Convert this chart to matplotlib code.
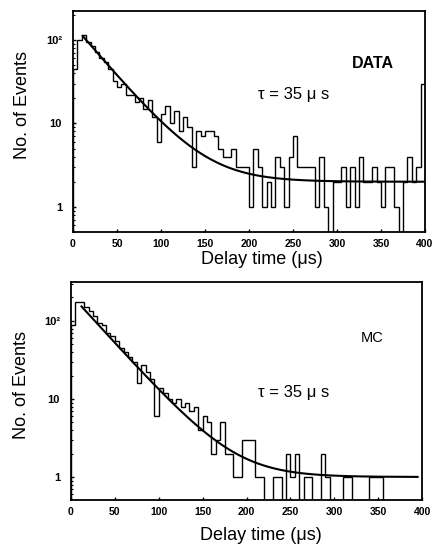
import numpy as np
import matplotlib
matplotlib.use('Agg')
import matplotlib.pyplot as plt

# ---------------- data ----------------
bin_edges = np.arange(0, 405, 5)          # 5 us bins, 0..400 us

data_counts = [45, 100, 115, 95, 85, 72, 60, 55, 45, 32,
               27, 30, 22, 22, 18, 20, 15, 19, 12, 6,
               13, 16, 10, 14, 8, 12, 9, 3, 8, 7,
               8, 8, 7, 5, 4, 4, 5, 3, 3, 3,
               1, 5, 3, 1, 2, 1, 4, 3, 1, 4,
               7, 3, 3, 3, 3, 1, 4, 1, 0, 2,
               2, 3, 1, 3, 1, 4, 2, 2, 3, 2,
               1, 3, 3, 1, 0, 2, 4, 2, 3, 30]

mc_counts = [90, 175, 175, 150, 135, 115, 95, 90, 70, 65,
             55, 45, 40, 35, 30, 16, 27, 22, 18, 6,
             14, 12, 10, 9, 10, 8, 9, 7, 8, 4,
             6, 5, 2, 3, 5, 2, 2, 1, 1, 3,
             3, 3, 1, 1, 0, 0, 1, 1, 0, 2,
             1, 2, 0, 1, 1, 0, 0, 2, 1, 0,
             0, 0, 1, 1, 0, 0, 0, 0, 1, 1,
             1, 0, 0, 0, 0, 0, 0, 0, 0, 0]

tau_us = 35.0
data_fit_amp, data_fit_bkg, data_fit_range = 150.0, 2.0, (11, 400)
mc_fit_amp, mc_fit_bkg, mc_fit_range = 215.0, 1.0, (12, 395)

x_ticks = [0, 50, 100, 150, 200, 250, 300, 350, 400]
y_ticks = [1, 10, 100]
y_tick_labels = ['1', '10', '10\u00b2']

panel_labels = ['DATA', 'MC']
tau_label = '\u03c4 = 35 \u03bc s'
x_label = 'Delay time (\u03bcs)'
y_label = 'No. of Events'

# ---------------- figure ----------------
W, H = 434, 548
fig = plt.figure(figsize=(W / 100, H / 100), dpi=100)
fig.patch.set_facecolor('white')
FONT = ['Liberation Sans', 'DejaVu Sans']


def px_axes(l, t, r, b):
    return [l / W, 1 - b / H, (r - l) / W, (b - t) / H]


def draw_panel(ax, counts, amp, bkg, frange, ylim):
    ax.set_yscale('log', nonpositive='clip')
    ax.stairs(counts, bin_edges, baseline=1e-3, color='black', lw=1.0)
    t = np.linspace(frange[0], frange[1], 400)
    ax.plot(t, amp * np.exp(-t / tau_us) + bkg, color='black', lw=1.5)
    ax.set_xlim(0, 400)
    ax.set_ylim(*ylim)
    ax.set_xticks(x_ticks)
    ax.set_xticklabels([str(v) for v in x_ticks], family=FONT,
                       fontsize=7.5, fontweight='bold')
    ax.set_yticks(y_ticks)
    ax.set_yticklabels(y_tick_labels, family=FONT, fontsize=8,
                       fontweight='bold')
    ax.tick_params(axis='both', which='major', direction='in', length=2.5,
                   width=1.0, pad=5)
    ax.tick_params(axis='y', which='major', pad=8)
    ax.tick_params(axis='y', which='minor', direction='in', length=1.5,
                   width=0.8, labelleft=False)
    for s in ax.spines.values():
        s.set_linewidth(1.3)
        s.set_color('black')
    return ax


ax1 = fig.add_axes(px_axes(73, 11, 425, 232))
draw_panel(ax1, data_counts, data_fit_amp, data_fit_bkg, data_fit_range,
           (0.5, 222))
ax2 = fig.add_axes(px_axes(71, 282, 422, 500))
draw_panel(ax2, mc_counts, mc_fit_amp, mc_fit_bkg, mc_fit_range,
           (0.507, 316))


def ftext(x, y, s, **kw):
    fig.text(x / W, 1 - y / H, s, family=FONT, **kw)


# panel labels
ftext(373, 63, panel_labels[0], fontsize=11.5, fontweight='bold',
      ha='center', va='center')
ftext(372, 338, panel_labels[1], fontsize=10.5, ha='center', va='center')
# tau labels
ftext(258, 95, tau_label, fontsize=12, ha='left', va='center')
ftext(258, 392, tau_label, fontsize=12, ha='left', va='center')
# axis labels
ftext(262, 260, x_label, fontsize=13, ha='center', va='center')
ftext(261, 535, x_label, fontsize=13, ha='center', va='center')
ftext(23, 105, y_label, fontsize=13, ha='center', va='center', rotation=90)
ftext(22, 385, y_label, fontsize=13, ha='center', va='center', rotation=90)

fig.savefig('out.png', dpi=100)
